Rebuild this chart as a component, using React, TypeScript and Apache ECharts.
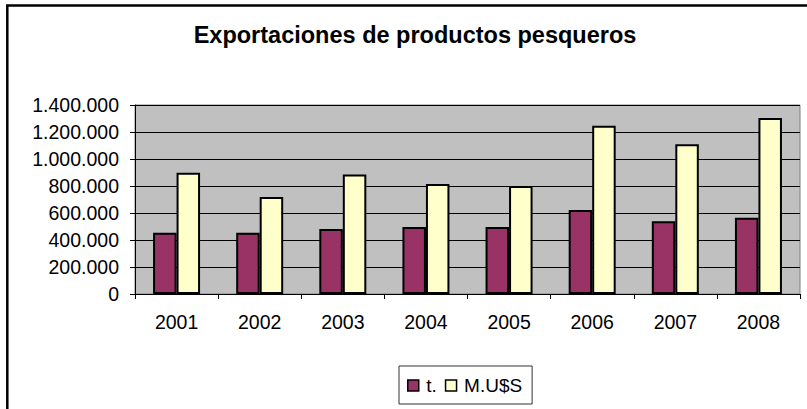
import React, { useEffect, useRef } from "react";
import * as echarts from "echarts";

const categories = ["2001", "2002", "2003", "2004", "2005", "2006", "2007", "2008"];
const toneladas = [454000, 454000, 481000, 496000, 496000, 622000, 538000, 565000];
const millonesUSD = [898000, 718000, 886000, 815000, 800000, 1247000, 1109000, 1304000];
const seriesNames = ["t.", "M.U$S"];
const titleText = "Exportaciones de productos pesqueros";

const FONT = "'Liberation Sans', Arial, sans-serif";
const fmt = (v: number) => String(v).replace(/\B(?=(\d{3})+(?!\d))/g, ".");

export default function App() {
  const ref = useRef<HTMLDivElement>(null);
  useEffect(() => {
    if (!ref.current) return;
    const chart = echarts.init(ref.current, null, { renderer: "svg" });
    chart.setOption({
      animation: false,
      backgroundColor: "#ffffff",
      textStyle: { fontFamily: FONT },
      graphic: [
        {
          type: "rect",
          shape: { x: 7.3, y: 5.6, width: 820, height: 420 },
          style: { fill: "none", stroke: "#000", lineWidth: 2.5 },
          silent: true,
          z: -1,
        },
        {
          type: "text",
          x: 415,
          y: 35,
          style: {
            text: titleText,
            align: "center",
            verticalAlign: "middle",
            fontSize: 23.5,
            fontWeight: "bold",
            fontFamily: FONT,
            fill: "#000",
          },
        },
      ],
      legend: {
        data: seriesNames,
        left: 399,
        top: 366,
        orient: "horizontal",
        itemWidth: 11,
        itemHeight: 11,
        itemGap: 8,
        padding: [10, 10, 9, 8],
        borderColor: "#333",
        borderWidth: 1,
        icon: "rect",
        itemStyle: { borderColor: "#000", borderWidth: 1.5 },
        textStyle: { fontSize: 19, color: "#000", fontFamily: FONT, padding: [0, 0, 0, 2.5] },
      },
      grid: {
        left: 135,
        right: 7,
        top: 105,
        bottom: 115,
        show: true,
        backgroundColor: "#C0C0C0",
        borderColor: "#808080",
        borderWidth: 1,
      },
      xAxis: {
        type: "category",
        data: categories,
        axisLine: { lineStyle: { color: "#000", width: 1 } },
        axisTick: { show: true, length: 5, lineStyle: { color: "#000" } },
        axisLabel: { fontSize: 19.5, color: "#000", margin: 18, fontFamily: FONT },
      },
      yAxis: {
        type: "value",
        min: 0,
        max: 1400000,
        interval: 200000,
        axisLine: { show: true, lineStyle: { color: "#000", width: 1 } },
        axisTick: { show: true, length: 5, lineStyle: { color: "#000" } },
        axisLabel: { fontSize: 19.5, color: "#000", margin: 16, fontFamily: FONT, formatter: (v: number) => fmt(v) },
        splitLine: { show: true, lineStyle: { color: "#000", width: 1 } },
      },
      series: [
        {
          name: seriesNames[0],
          type: "bar",
          data: toneladas,
          barWidth: 23.5,
          barGap: "0%",
          itemStyle: { color: "#993366", borderColor: "#000", borderWidth: 2 },
        },
        {
          name: seriesNames[1],
          type: "bar",
          data: millonesUSD,
          barWidth: 23.5,
          barGap: "0%",
          itemStyle: { color: "#FFFFCC", borderColor: "#000", borderWidth: 2 },
        },
      ],
    });
    return () => chart.dispose();
  }, []);
  return <div ref={ref} style={{ position: "fixed", left: 0, top: 0, width: 807, height: 409 }} />;
}
